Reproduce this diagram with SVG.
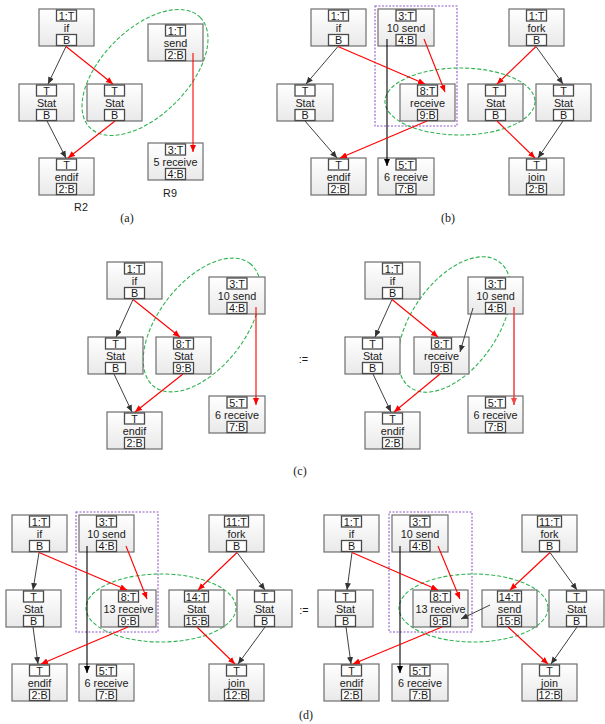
<svg xmlns="http://www.w3.org/2000/svg" width="605" height="724" viewBox="0 0 605 724">
<defs>
<linearGradient id="gnode" x1="0" y1="0" x2="0" y2="1">
<stop offset="0" stop-color="#ffffff"/>
<stop offset="1" stop-color="#e9e9e9"/>
</linearGradient>
<marker id="ab" markerUnits="userSpaceOnUse" markerWidth="8" markerHeight="7" refX="7" refY="3" orient="auto"><path d="M0,0 L7,3 L0,6 z" fill="#333"/></marker>
<marker id="ak" markerUnits="userSpaceOnUse" markerWidth="8" markerHeight="7" refX="7" refY="3" orient="auto"><path d="M0,0 L7,3 L0,6 z" fill="#000"/></marker>
<marker id="ar" markerUnits="userSpaceOnUse" markerWidth="8" markerHeight="7" refX="7" refY="3" orient="auto"><path d="M0,0 L7,3 L0,6 z" fill="#ff0000"/></marker>
<marker id="ap" markerUnits="userSpaceOnUse" markerWidth="8" markerHeight="7" refX="7" refY="3" orient="auto"><path d="M0,0 L7,3 L0,6 z" fill="#f04848"/></marker>
</defs>
<style>
.nd{fill:url(#gnode);stroke:#6e6e6e;stroke-width:1.2}
.lb{fill:#ffffff;stroke:#4a4a4a;stroke-width:1.3}
text{font-family:"Liberation Sans",Arial,sans-serif;font-size:10.8px;fill:#1a1a1a;text-anchor:middle}
.cap{font-family:"Liberation Serif","Times New Roman",serif;font-size:12px}
.ell{fill:none;stroke:#2fb350;stroke-width:1.1;stroke-dasharray:4 2}
.box{fill:none;stroke:#8e5ac8;stroke-width:1.1;stroke-dasharray:2 1.5}
.cb{stroke:#404040;stroke-width:1;fill:none;marker-end:url(#ab)}
.ck{stroke:#000;stroke-width:1.1;fill:none;marker-end:url(#ak)}
.cr{stroke:#ff0000;stroke-width:1.1;fill:none;marker-end:url(#ar)}
.cp{stroke:#f04848;stroke-width:1.6;fill:none;marker-end:url(#ap)}
</style>

<g id="groups">
<ellipse class="ell" cx="145" cy="72.5" rx="78" ry="43" transform="rotate(-45 145 72.5)"/>
<rect class="box" x="375" y="6" width="82" height="120"/>
<ellipse class="ell" cx="460" cy="101.5" rx="75" ry="33.5"/>
<ellipse class="ell" cx="202" cy="325" rx="78" ry="43" transform="rotate(-52 202 325)"/>
<ellipse class="ell" cx="454.5" cy="324.5" rx="77" ry="43" transform="rotate(-55 454.5 324.5)"/>
<rect class="box" x="76" y="512" width="82" height="120"/>
<ellipse class="ell" cx="161" cy="608" rx="75" ry="34"/>
<rect class="box" x="389" y="512" width="83" height="120"/>
<ellipse class="ell" cx="473.5" cy="608" rx="74.5" ry="34"/>
</g>

<!-- Panel (a) -->
<g id="a_if"><rect class="nd" x="39" y="9" width="55" height="37"/><rect class="lb" x="56.5" y="10" width="20" height="11"/><text x="66.5" y="19.5">1:T</text><text x="66.5" y="31.5">if</text><rect class="lb" x="56.5" y="34.5" width="20" height="11"/><text x="66.5" y="44">B</text></g>
<g id="a_stat1"><rect class="nd" x="19" y="84" width="55" height="37"/><rect class="lb" x="36.5" y="85" width="20" height="11"/><text x="46.5" y="94.5">T</text><text x="46.5" y="106.5">Stat</text><rect class="lb" x="36.5" y="109.5" width="20" height="11"/><text x="46.5" y="119">B</text></g>
<g id="a_stat2"><rect class="nd" x="87" y="84" width="55" height="37"/><rect class="lb" x="104.5" y="85" width="20" height="11"/><text x="114.5" y="94.5">T</text><text x="114.5" y="106.5">Stat</text><rect class="lb" x="104.5" y="109.5" width="20" height="11"/><text x="114.5" y="119">B</text></g>
<g id="a_send"><rect class="nd" x="148" y="24" width="55" height="37"/><rect class="lb" x="165.5" y="25" width="20" height="11"/><text x="175.5" y="34.5">1:T</text><text x="175.5" y="46.5">send</text><rect class="lb" x="165.5" y="49.5" width="20" height="11"/><text x="175.5" y="59">2:B</text></g>
<g id="a_endif"><rect class="nd" x="39" y="158" width="55" height="37"/><rect class="lb" x="56.5" y="159" width="20" height="11"/><text x="66.5" y="168.5">T</text><text x="66.5" y="180.5">endif</text><rect class="lb" x="56.5" y="183.5" width="20" height="11"/><text x="66.5" y="193">2:B</text></g>
<g id="a_recv"><rect class="nd" x="148" y="143" width="55" height="37"/><rect class="lb" x="165.5" y="144" width="20" height="11"/><text x="175.5" y="153.5">3:T</text><text x="175.5" y="165.5">5 receive</text><rect class="lb" x="165.5" y="168.5" width="20" height="11"/><text x="175.5" y="178">4:B</text></g>
<g id="a_labels"><text x="170" y="197">R9</text><text x="81" y="211">R2</text><text class="cap" x="127" y="222">(a)</text></g>

<!-- Panel (b) -->
<g id="b_if"><rect class="nd" x="311" y="9" width="55" height="37"/><rect class="lb" x="328.5" y="10" width="20" height="11"/><text x="338.5" y="19.5">1:T</text><text x="338.5" y="31.5">if</text><rect class="lb" x="328.5" y="34.5" width="20" height="11"/><text x="338.5" y="44">B</text></g>
<g id="b_send"><rect class="nd" x="378" y="9" width="56" height="37"/><rect class="lb" x="396" y="10" width="20" height="11"/><text x="406" y="19.5">3:T</text><text x="406" y="31.5">10 send</text><rect class="lb" x="396" y="34.5" width="20" height="11"/><text x="406" y="44">4:B</text></g>
<g id="b_fork"><rect class="nd" x="509" y="9" width="55" height="37"/><rect class="lb" x="526.5" y="10" width="20" height="11"/><text x="536.5" y="19.5">1:T</text><text x="536.5" y="31.5">fork</text><rect class="lb" x="526.5" y="34.5" width="20" height="11"/><text x="536.5" y="44">B</text></g>
<g id="b_stat1"><rect class="nd" x="277" y="84" width="56" height="37"/><rect class="lb" x="295" y="85" width="20" height="11"/><text x="305" y="94.5">T</text><text x="305" y="106.5">Stat</text><rect class="lb" x="295" y="109.5" width="20" height="11"/><text x="305" y="119">B</text></g>
<g id="b_recv"><rect class="nd" x="400" y="84" width="55" height="37"/><rect class="lb" x="417.5" y="85" width="20" height="11"/><text x="427.5" y="94.5">8:T</text><text x="427.5" y="106.5">receive</text><rect class="lb" x="417.5" y="109.5" width="20" height="11"/><text x="427.5" y="119">9:B</text></g>
<g id="b_stat2"><rect class="nd" x="468" y="84" width="55" height="37"/><rect class="lb" x="485.5" y="85" width="20" height="11"/><text x="495.5" y="94.5">T</text><text x="495.5" y="106.5">Stat</text><rect class="lb" x="485.5" y="109.5" width="20" height="11"/><text x="495.5" y="119">B</text></g>
<g id="b_stat3"><rect class="nd" x="536" y="84" width="55" height="37"/><rect class="lb" x="553.5" y="85" width="20" height="11"/><text x="563.5" y="94.5">T</text><text x="563.5" y="106.5">Stat</text><rect class="lb" x="553.5" y="109.5" width="20" height="11"/><text x="563.5" y="119">B</text></g>
<g id="b_endif"><rect class="nd" x="311" y="158" width="55" height="37"/><rect class="lb" x="328.5" y="159" width="20" height="11"/><text x="338.5" y="168.5">T</text><text x="338.5" y="180.5">endif</text><rect class="lb" x="328.5" y="183.5" width="20" height="11"/><text x="338.5" y="193">2:B</text></g>
<g id="b_recv6"><rect class="nd" x="378" y="158" width="56" height="37"/><rect class="lb" x="396" y="159" width="20" height="11"/><text x="406" y="168.5">5:T</text><text x="406" y="180.5">6 receive</text><rect class="lb" x="396" y="183.5" width="20" height="11"/><text x="406" y="193">7:B</text></g>
<g id="b_join"><rect class="nd" x="509" y="158" width="55" height="37"/><rect class="lb" x="526.5" y="159" width="20" height="11"/><text x="536.5" y="168.5">T</text><text x="536.5" y="180.5">join</text><rect class="lb" x="526.5" y="183.5" width="20" height="11"/><text x="536.5" y="193">2:B</text></g>
<g id="b_labels"><text class="cap" x="448" y="222">(b)</text></g>

<!-- Panel (c) left -->
<g id="c1_if"><rect class="nd" x="107" y="262" width="55" height="37"/><rect class="lb" x="124.5" y="263" width="20" height="11"/><text x="134.5" y="272.5">1:T</text><text x="134.5" y="284.5">if</text><rect class="lb" x="124.5" y="287.5" width="20" height="11"/><text x="134.5" y="297">B</text></g>
<g id="c1_stat"><rect class="nd" x="88" y="337" width="55" height="37"/><rect class="lb" x="105.5" y="338" width="20" height="11"/><text x="115.5" y="347.5">T</text><text x="115.5" y="359.5">Stat</text><rect class="lb" x="105.5" y="362.5" width="20" height="11"/><text x="115.5" y="372">B</text></g>
<g id="c1_stat2"><rect class="nd" x="156" y="337" width="55" height="37"/><rect class="lb" x="173.5" y="338" width="20" height="11"/><text x="183.5" y="347.5">8:T</text><text x="183.5" y="359.5">Stat</text><rect class="lb" x="173.5" y="362.5" width="20" height="11"/><text x="183.5" y="372">9:B</text></g>
<g id="c1_send"><rect class="nd" x="209" y="277" width="56" height="37"/><rect class="lb" x="227" y="278" width="20" height="11"/><text x="237" y="287.5">3:T</text><text x="237" y="299.5">10 send</text><rect class="lb" x="227" y="302.5" width="20" height="11"/><text x="237" y="312">4:B</text></g>
<g id="c1_endif"><rect class="nd" x="107" y="412" width="55" height="37"/><rect class="lb" x="124.5" y="413" width="20" height="11"/><text x="134.5" y="422.5">T</text><text x="134.5" y="434.5">endif</text><rect class="lb" x="124.5" y="437.5" width="20" height="11"/><text x="134.5" y="447">2:B</text></g>
<g id="c1_recv6"><rect class="nd" x="209" y="396" width="56" height="37"/><rect class="lb" x="227" y="397" width="20" height="11"/><text x="237" y="406.5">5:T</text><text x="237" y="418.5">6 receive</text><rect class="lb" x="227" y="421.5" width="20" height="11"/><text x="237" y="431">7:B</text></g>
<g id="c_labels"><text x="303.5" y="363">:=</text><text class="cap" x="300" y="475">(c)</text></g>

<!-- Panel (c) right -->
<g id="c2_if"><rect class="nd" x="365" y="262" width="55" height="37"/><rect class="lb" x="382.5" y="263" width="20" height="11"/><text x="392.5" y="272.5">1:T</text><text x="392.5" y="284.5">if</text><rect class="lb" x="382.5" y="287.5" width="20" height="11"/><text x="392.5" y="297">B</text></g>
<g id="c2_stat"><rect class="nd" x="345" y="337" width="55" height="37"/><rect class="lb" x="362.5" y="338" width="20" height="11"/><text x="372.5" y="347.5">T</text><text x="372.5" y="359.5">Stat</text><rect class="lb" x="362.5" y="362.5" width="20" height="11"/><text x="372.5" y="372">B</text></g>
<g id="c2_recv"><rect class="nd" x="414" y="337" width="55" height="37"/><rect class="lb" x="431.5" y="338" width="20" height="11"/><text x="441.5" y="347.5">8:T</text><text x="441.5" y="359.5">receive</text><rect class="lb" x="431.5" y="362.5" width="20" height="11"/><text x="441.5" y="372">9:B</text></g>
<g id="c2_send"><rect class="nd" x="468" y="277" width="55" height="37"/><rect class="lb" x="485.5" y="278" width="20" height="11"/><text x="495.5" y="287.5">3:T</text><text x="495.5" y="299.5">10 send</text><rect class="lb" x="485.5" y="302.5" width="20" height="11"/><text x="495.5" y="312">4:B</text></g>
<g id="c2_endif"><rect class="nd" x="365" y="412" width="55" height="37"/><rect class="lb" x="382.5" y="413" width="20" height="11"/><text x="392.5" y="422.5">T</text><text x="392.5" y="434.5">endif</text><rect class="lb" x="382.5" y="437.5" width="20" height="11"/><text x="392.5" y="447">2:B</text></g>
<g id="c2_recv6"><rect class="nd" x="468" y="396" width="55" height="37"/><rect class="lb" x="485.5" y="397" width="20" height="11"/><text x="495.5" y="406.5">5:T</text><text x="495.5" y="418.5">6 receive</text><rect class="lb" x="485.5" y="421.5" width="20" height="11"/><text x="495.5" y="431">7:B</text></g>

<!-- Panel (d) left -->
<g id="d1_if"><rect class="nd" x="12" y="515" width="55" height="37"/><rect class="lb" x="29.5" y="516" width="20" height="11"/><text x="39.5" y="525.5">1:T</text><text x="39.5" y="537.5">if</text><rect class="lb" x="29.5" y="540.5" width="20" height="11"/><text x="39.5" y="550">B</text></g>
<g id="d1_send"><rect class="nd" x="79" y="515" width="55" height="37"/><rect class="lb" x="96.5" y="516" width="20" height="11"/><text x="106.5" y="525.5">3:T</text><text x="106.5" y="537.5">10 send</text><rect class="lb" x="96.5" y="540.5" width="20" height="11"/><text x="106.5" y="550">4:B</text></g>
<g id="d1_fork"><rect class="nd" x="209" y="515" width="55" height="37"/><rect class="lb" x="224.5" y="516" width="24" height="11"/><text x="236.5" y="525.5">11:T</text><text x="236.5" y="537.5">fork</text><rect class="lb" x="226.5" y="540.5" width="20" height="11"/><text x="236.5" y="550">B</text></g>
<g id="d1_stat1"><rect class="nd" x="6" y="590" width="55" height="37"/><rect class="lb" x="23.5" y="591" width="20" height="11"/><text x="33.5" y="600.5">T</text><text x="33.5" y="612.5">Stat</text><rect class="lb" x="23.5" y="615.5" width="20" height="11"/><text x="33.5" y="625">B</text></g>
<g id="d1_recv"><rect class="nd" x="101" y="590" width="55" height="37"/><rect class="lb" x="118.5" y="591" width="20" height="11"/><text x="128.5" y="600.5">8:T</text><text x="128.5" y="612.5">13 receive</text><rect class="lb" x="118.5" y="615.5" width="20" height="11"/><text x="128.5" y="625">9:B</text></g>
<g id="d1_stat2"><rect class="nd" x="169" y="590" width="55" height="37"/><rect class="lb" x="184.5" y="591" width="24" height="11"/><text x="196.5" y="600.5">14:T</text><text x="196.5" y="612.5">Stat</text><rect class="lb" x="184.5" y="615.5" width="24" height="11"/><text x="196.5" y="625">15:B</text></g>
<g id="d1_stat3"><rect class="nd" x="237" y="590" width="55" height="37"/><rect class="lb" x="254.5" y="591" width="20" height="11"/><text x="264.5" y="600.5">T</text><text x="264.5" y="612.5">Stat</text><rect class="lb" x="254.5" y="615.5" width="20" height="11"/><text x="264.5" y="625">B</text></g>
<g id="d1_endif"><rect class="nd" x="12" y="664" width="55" height="37"/><rect class="lb" x="29.5" y="665" width="20" height="11"/><text x="39.5" y="674.5">T</text><text x="39.5" y="686.5">endif</text><rect class="lb" x="29.5" y="689.5" width="20" height="11"/><text x="39.5" y="699">2:B</text></g>
<g id="d1_recv6"><rect class="nd" x="79" y="664" width="55" height="37"/><rect class="lb" x="96.5" y="665" width="20" height="11"/><text x="106.5" y="674.5">5:T</text><text x="106.5" y="686.5">6 receive</text><rect class="lb" x="96.5" y="689.5" width="20" height="11"/><text x="106.5" y="699">7:B</text></g>
<g id="d1_join"><rect class="nd" x="209" y="664" width="55" height="37"/><rect class="lb" x="226.5" y="665" width="20" height="11"/><text x="236.5" y="674.5">T</text><text x="236.5" y="686.5">join</text><rect class="lb" x="224.5" y="689.5" width="24" height="11"/><text x="236.5" y="699">12:B</text></g>
<g id="d_labels"><text x="304" y="614">:=</text><text class="cap" x="306" y="719">(d)</text></g>

<!-- Panel (d) right -->
<g id="d2_if"><rect class="nd" x="324" y="515" width="55" height="37"/><rect class="lb" x="341.5" y="516" width="20" height="11"/><text x="351.5" y="525.5">1:T</text><text x="351.5" y="537.5">if</text><rect class="lb" x="341.5" y="540.5" width="20" height="11"/><text x="351.5" y="550">B</text></g>
<g id="d2_send"><rect class="nd" x="392" y="515" width="56" height="37"/><rect class="lb" x="410" y="516" width="20" height="11"/><text x="420" y="525.5">3:T</text><text x="420" y="537.5">10 send</text><rect class="lb" x="410" y="540.5" width="20" height="11"/><text x="420" y="550">4:B</text></g>
<g id="d2_fork"><rect class="nd" x="522" y="515" width="55" height="37"/><rect class="lb" x="537.5" y="516" width="24" height="11"/><text x="549.5" y="525.5">11:T</text><text x="549.5" y="537.5">fork</text><rect class="lb" x="539.5" y="540.5" width="20" height="11"/><text x="549.5" y="550">B</text></g>
<g id="d2_stat1"><rect class="nd" x="318" y="590" width="55" height="37"/><rect class="lb" x="335.5" y="591" width="20" height="11"/><text x="345.5" y="600.5">T</text><text x="345.5" y="612.5">Stat</text><rect class="lb" x="335.5" y="615.5" width="20" height="11"/><text x="345.5" y="625">B</text></g>
<g id="d2_recv"><rect class="nd" x="413" y="590" width="55" height="37"/><rect class="lb" x="430.5" y="591" width="20" height="11"/><text x="440.5" y="600.5">8:T</text><text x="440.5" y="612.5">13 receive</text><rect class="lb" x="430.5" y="615.5" width="20" height="11"/><text x="440.5" y="625">9:B</text></g>
<g id="d2_send14"><rect class="nd" x="482" y="590" width="55" height="37"/><rect class="lb" x="497.5" y="591" width="24" height="11"/><text x="509.5" y="600.5">14:T</text><text x="509.5" y="612.5">send</text><rect class="lb" x="497.5" y="615.5" width="24" height="11"/><text x="509.5" y="625">15:B</text></g>
<g id="d2_stat3"><rect class="nd" x="549" y="590" width="55" height="37"/><rect class="lb" x="566.5" y="591" width="20" height="11"/><text x="576.5" y="600.5">T</text><text x="576.5" y="612.5">Stat</text><rect class="lb" x="566.5" y="615.5" width="20" height="11"/><text x="576.5" y="625">B</text></g>
<g id="d2_endif"><rect class="nd" x="324" y="664" width="55" height="37"/><rect class="lb" x="341.5" y="665" width="20" height="11"/><text x="351.5" y="674.5">T</text><text x="351.5" y="686.5">endif</text><rect class="lb" x="341.5" y="689.5" width="20" height="11"/><text x="351.5" y="699">2:B</text></g>
<g id="d2_recv6"><rect class="nd" x="392" y="664" width="56" height="37"/><rect class="lb" x="410" y="665" width="20" height="11"/><text x="420" y="674.5">5:T</text><text x="420" y="686.5">6 receive</text><rect class="lb" x="410" y="689.5" width="20" height="11"/><text x="420" y="699">7:B</text></g>
<g id="d2_join"><rect class="nd" x="522" y="664" width="55" height="37"/><rect class="lb" x="539.5" y="665" width="20" height="11"/><text x="549.5" y="674.5">T</text><text x="549.5" y="686.5">join</text><rect class="lb" x="537.5" y="689.5" width="24" height="11"/><text x="549.5" y="699">12:B</text></g>

<g id="connectors">
<!-- a -->
<line class="cb" x1="66" y1="46.5" x2="48" y2="84"/>
<line class="cb" x1="47" y1="121" x2="66" y2="158"/>
<line class="cr" x1="66" y1="46.5" x2="113" y2="84"/>
<line class="cr" x1="115" y1="121" x2="68" y2="158"/>
<line class="cr" x1="193" y1="53" x2="193" y2="152"/>
<!-- b -->
<line class="cb" x1="338" y1="46.5" x2="306" y2="84"/>
<line class="cb" x1="305" y1="121" x2="337" y2="158"/>
<line class="ck" x1="387" y1="39" x2="387" y2="166"/>
<line class="cb" x1="536" y1="46.5" x2="563" y2="84"/>
<line class="cb" x1="563" y1="121" x2="538" y2="158"/>
<line class="cr" x1="338" y1="46.5" x2="425" y2="84"/>
<line class="cr" x1="424" y1="39" x2="445" y2="92"/>
<line class="cr" x1="427" y1="121" x2="340" y2="158"/>
<line class="cr" x1="536" y1="46.5" x2="497" y2="84"/>
<line class="cr" x1="497" y1="121" x2="535" y2="158"/>
<!-- c left -->
<line class="cb" x1="133" y1="299.5" x2="116" y2="337"/>
<line class="cb" x1="114" y1="374" x2="132" y2="412"/>
<line class="cr" x1="133" y1="299.5" x2="180" y2="337"/>
<line class="cr" x1="183" y1="374" x2="135" y2="412"/>
<line class="cr" x1="256" y1="307" x2="256" y2="405"/>
<!-- c right -->
<line class="cb" x1="392" y1="299.5" x2="375" y2="337"/>
<line class="cb" x1="473" y1="308" x2="460" y2="352"/>
<line class="cb" x1="373" y1="374" x2="391" y2="412"/>
<line class="cr" x1="392" y1="299.5" x2="438" y2="337"/>
<line class="cr" x1="440" y1="374" x2="394" y2="412"/>
<line class="cp" x1="514" y1="307" x2="514" y2="405"/>
<!-- d left -->
<line class="cb" x1="39" y1="552.5" x2="33" y2="590"/>
<line class="ck" x1="87" y1="546" x2="87" y2="673"/>
<line class="cb" x1="33" y1="627" x2="38" y2="664"/>
<line class="cb" x1="237" y1="552.5" x2="265" y2="590"/>
<line class="cb" x1="265" y1="627" x2="238" y2="664"/>
<line class="cr" x1="39" y1="552.5" x2="127" y2="590"/>
<line class="cr" x1="126" y1="546" x2="147" y2="599"/>
<line class="cr" x1="128" y1="627" x2="41" y2="664"/>
<line class="cr" x1="237" y1="552.5" x2="198" y2="590"/>
<line class="cr" x1="197" y1="627" x2="235" y2="664"/>
<!-- d right -->
<line class="cb" x1="352" y1="552.5" x2="347" y2="590"/>
<line class="ck" x1="400" y1="546" x2="400" y2="673"/>
<line class="cb" x1="490" y1="605" x2="461" y2="619"/>
<line class="cb" x1="346" y1="627" x2="351" y2="664"/>
<line class="cb" x1="550" y1="552.5" x2="577" y2="590"/>
<line class="cb" x1="577" y1="627" x2="551" y2="664"/>
<line class="cr" x1="352" y1="552.5" x2="438" y2="590"/>
<line class="cr" x1="438" y1="546" x2="460" y2="599"/>
<line class="cr" x1="442" y1="627" x2="353" y2="664"/>
<line class="cr" x1="550" y1="552.5" x2="510" y2="590"/>
<line class="cr" x1="508" y1="627" x2="548" y2="664"/>
</g>
</svg>
